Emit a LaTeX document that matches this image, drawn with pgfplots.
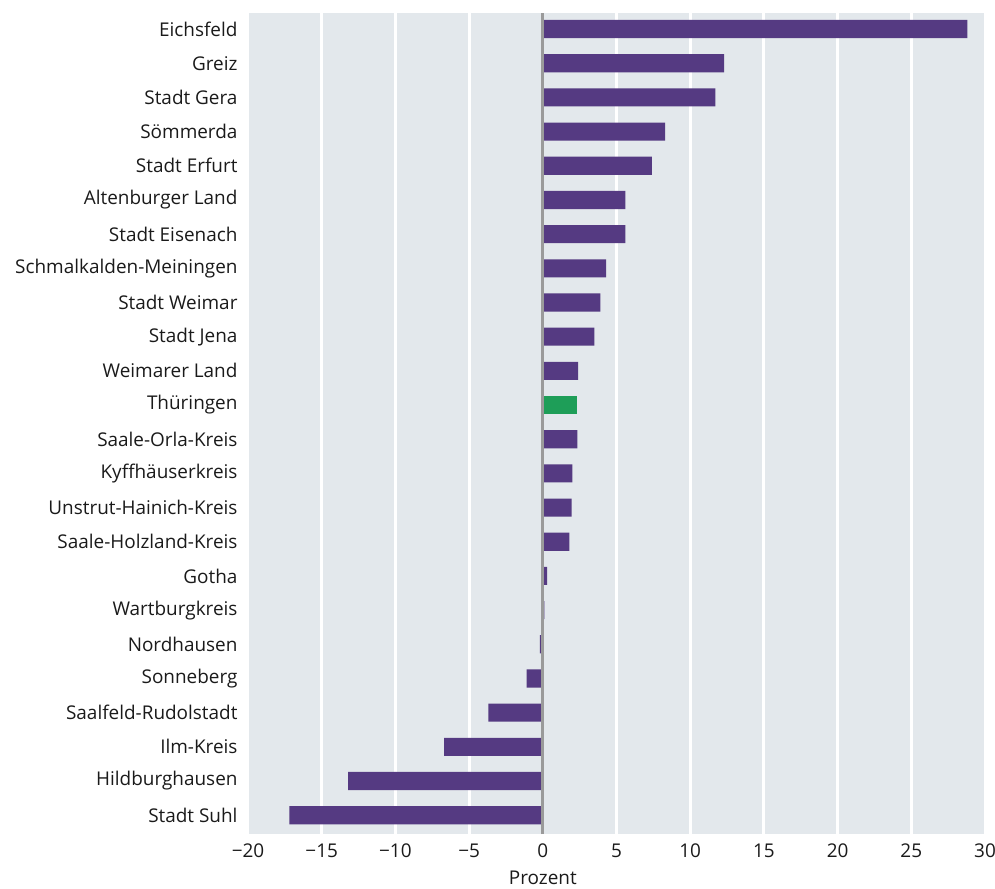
\documentclass[border=0pt]{standalone}
\usepackage{pgfplots}
\pgfplotsset{compat=1.18}
\usepackage{fontspec}
\setmainfont{Open Sans}

\definecolor{barlila}{HTML}{553A82}
\definecolor{bargruen}{HTML}{1E9E58}
\definecolor{hinter}{HTML}{E3E8EC}
\definecolor{nulllinie}{HTML}{9A9A9A}
\definecolor{schrift}{HTML}{1A1A1A}

\pgfplotstableread{
y val
0 -17.2
1 -13.2
2 -6.7
3 -3.7
4 -1.1
5 -0.2
6 0.1
7 0.3
8 1.8
9 1.95
10 2.0
11 2.35
13 2.4
14 3.5
15 3.9
16 4.3
17 5.6
18 5.6
19 7.4
20 8.3
21 11.7
22 12.3
23 28.8
}\kreise

\pgfplotstableread{
y val
12 2.35
}\land

\begin{document}
\begin{tikzpicture}
\path[use as bounding box] (-248bp,-55bp) rectangle (747bp,834bp);
\begin{axis}[
  at={(0,0)}, anchor=south west,
  scale only axis,
  width=737bp, height=821bp,
  xmin=-20, xmax=30,
  ymin=-0.55, ymax=23.47,
  axis background/.style={fill=hinter},
  axis line style={draw=none},
  major tick length=0pt,
  xtick={-20,-15,...,30},
  xticklabels={−20,−15,−10,−5,0,5,10,15,20,25,30},
  ytick={0,...,23},
  yticklabels={Stadt Suhl,Hildburghausen,Ilm-Kreis,Saalfeld-Rudolstadt,Sonneberg,Nordhausen,Wartburgkreis,Gotha,Saale-Holzland-Kreis,Unstrut-Hainich-Kreis,Kyffhäuserkreis,Saale-Orla-Kreis,Thüringen,Weimarer Land,Stadt Jena,Stadt Weimar,Schmalkalden-Meiningen,Stadt Eisenach,Altenburger Land,Stadt Erfurt,Sömmerda,Stadt Gera,Greiz,Eichsfeld},
  xmajorgrids,
  grid style={white, line width=3bp},
  tick label style={font=\fontsize{19}{22}\selectfont, text=schrift},
  yticklabel style={xshift=-7bp},
  xticklabel style={yshift=-6bp},
  xlabel={Prozent},
  xlabel style={font=\fontsize{19}{22}\selectfont, text=schrift, at={(rel axis cs:0.4,0)}, anchor=north, yshift=-33bp},
  xbar, bar width=0.53, bar shift=0pt,
]
\addplot[fill=barlila, draw=none] table[x=val, y=y] {\kreise};
\addplot[fill=bargruen, draw=none] table[x=val, y=y] {\land};
\draw[nulllinie, line width=3bp] (axis cs:0,-0.55) -- (axis cs:0,23.47);
\end{axis}
\end{tikzpicture}
\end{document}
